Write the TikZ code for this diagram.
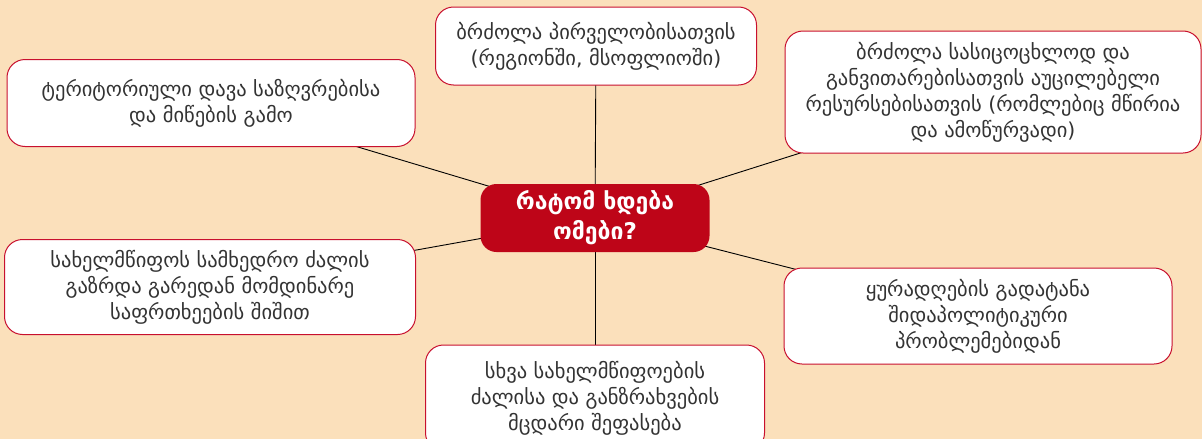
\documentclass[tikz,border=0pt]{standalone}
\usepackage{fontspec}
\setmainfont{DejaVu Sans}
\definecolor{bg}{HTML}{FBE0BB}
\definecolor{boxred}{HTML}{C8102E}
\definecolor{hubred}{HTML}{BE0518}
\definecolor{txt}{HTML}{333333}
\tikzset{
  leaf/.style={draw=boxred, line width=1pt, fill=white, rounded corners=18pt, align=center,
    text=txt, font=\fontsize{20.5}{26}\selectfont, inner sep=0pt},
  hub/.style={fill=hubred, rounded corners=16pt, align=center, text=white,
    font=\bfseries\fontsize{23}{30}\selectfont, inner sep=0pt},
  link/.style={draw=black, line width=0.9pt}
}
\begin{document}
\begin{tikzpicture}[x=1pt,y=-1pt]
\fill[bg] (0,0) rectangle (1202,439);
\useasboundingbox (0,0) rectangle (1202,439);
\begin{scope}
\clip (0,0) rectangle (1202,439);
\coordinate (c) at (595,218);
\coordinate (ct) at (596,46);
\coordinate (ctr) at (993,92);
\coordinate (ctl) at (211,103);
\coordinate (cl) at (210,287);
\coordinate (cr) at (978,316);
\coordinate (cb) at (595,398);
\draw[link] (c) -- (ct);
\draw[link] (c) -- (ctr);
\draw[link] (c) -- (ctl);
\draw[link] (c) -- (cl);
\draw[link] (c) -- (cr);
\draw[link] (c) -- (cb);
\node[leaf, minimum width=321pt, minimum height=78pt] (t) at (ct)
  {ბრძოლა პირველობისათვის\\(რეგიონში, მსოფლიოში)};
\node[leaf, minimum width=416pt, minimum height=122pt] (tr) at (ctr)
  {ბრძოლა სასიცოცხლოდ და\\განვითარებისათვის აუცილებელი\\რესურსებისათვის (რომლებიც მწირია\\და ამოწურვადი)};
\node[leaf, minimum width=408pt, minimum height=87pt] (tl) at (ctl)
  {ტერიტორიული დავა საზღვრებისა\\და მიწების გამო};
\node[leaf, minimum width=411pt, minimum height=95pt] (l) at (cl)
  {სახელმწიფოს სამხედრო ძალის\\გაზრდა გარედან მომდინარე\\საფრთხეების შიშით};
\node[leaf, minimum width=388pt, minimum height=96pt] (r) at (cr)
  {ყურადღების გადატანა\\შიდაპოლიტიკური\\პრობლემებიდან};
\node[leaf, minimum width=339pt, minimum height=106pt] (b) at (cb)
  {სხვა სახელმწიფოების\\ძალისა და განზრახვების\\მცდარი შეფასება};
\node[hub, minimum width=229pt, minimum height=68pt] (h) at (c)
  {რატომ ხდება\\ომები?};
\end{scope}
\end{tikzpicture}
\end{document}
